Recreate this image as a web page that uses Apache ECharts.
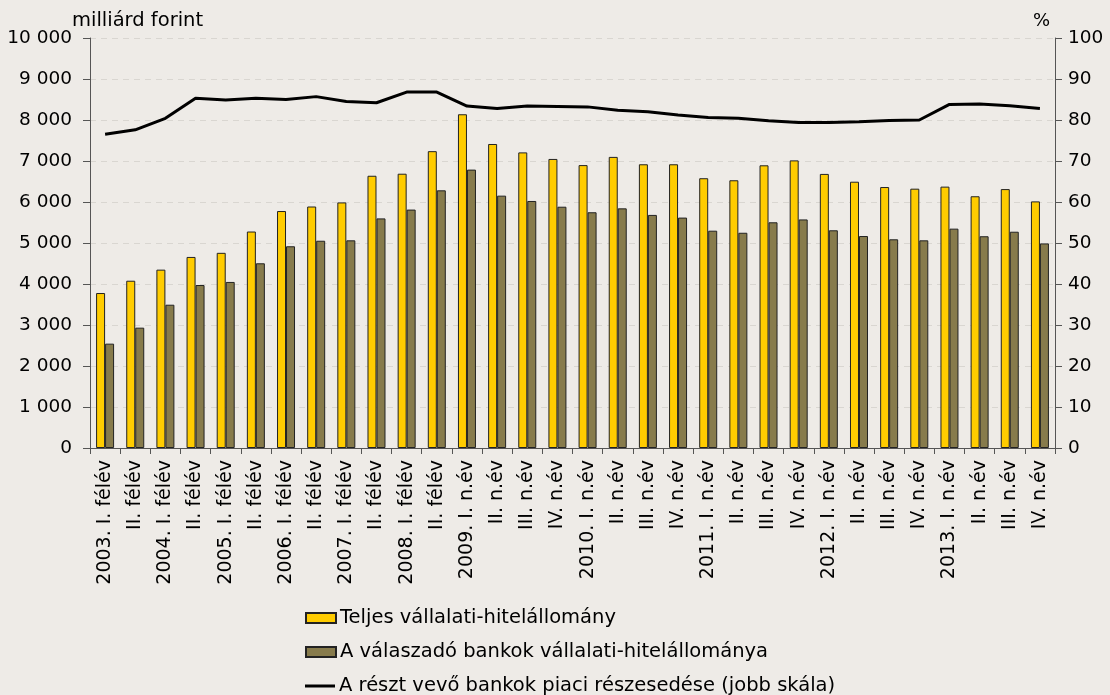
<!DOCTYPE html>
<html>
<head>
<meta charset="utf-8">
<script src="https://cdn.jsdelivr.net/npm/echarts@6/dist/echarts.min.js"></script>
<style>
html,body{margin:0;padding:0;background:#eeebe7;}
#c{width:1110px;height:695px;}
</style>
</head>
<body>
<div id="c"></div>
<script>
const categories = [
  "2003. I. félév","II. félév","2004. I. félév","II. félév","2005. I. félév","II. félév",
  "2006. I. félév","II. félév","2007. I. félév","II. félév","2008. I. félév","II. félév",
  "2009. I. n.év","II. n.év","III. n.év","IV. n.év",
  "2010. I. n.év","II. n.év","III. n.év","IV. n.év",
  "2011. I. n.év","II. n.év","III. n.év","IV. n.év",
  "2012. I. n.év","II. n.év","III. n.év","IV. n.év",
  "2013. I. n.év","II. n.év","III. n.év","IV. n.év"
];
const totalLoans = [3780,4080,4350,4660,4760,5280,5780,5890,5990,6640,6690,7240,
  8140,7415,7210,7050,6900,7100,6920,6920,6580,6530,6895,7015,6685,6495,6365,6325,6375,6140,6315,6015];
const respondentLoans = [2545,2935,3495,3975,4050,4505,4920,5055,5065,5600,5815,6285,
  6790,6155,6025,5885,5750,5845,5685,5620,5300,5250,5505,5575,5310,5170,5090,5065,5350,5165,5275,4990];
const marketShare = [76.5,77.6,80.4,85.3,84.9,85.3,85.0,85.7,84.5,84.2,86.8,86.8,
  83.4,82.8,83.4,83.3,83.2,82.4,82.0,81.2,80.6,80.4,79.8,79.4,79.4,79.6,79.9,80.0,83.8,83.9,83.5,82.8];
const seriesNames = ["Teljes vállalati-hitelállomány","A válaszadó bankok vállalati-hitelállománya","A részt vevő bankok piaci részesedése (jobb skála)"];
const leftAxisName = "milliárd forint";
const rightAxisName = "%";

const FONT = "DejaVu Sans";
const chart = echarts.init(document.getElementById('c'));
const fmt = v => String(v).replace(/\B(?=(\d{3})+(?!\d))/g, ' ');
const legendText = {fontFamily: FONT, fontSize: 19.5, color: '#000', padding: [0,0,0,-1]};
chart.setOption({
  backgroundColor: '#eeebe7',
  animation: false,
  textStyle: {fontFamily: FONT, color: '#000'},
  grid: {left: 90, right: 55, top: 38, bottom: 247, containLabel: false},
  graphic: [
    {type: 'text', left: 72, top: 11, style: {text: leftAxisName, font: '19.5px "DejaVu Sans"', fill: '#000'}},
    {type: 'text', right: 60, top: 12, style: {text: rightAxisName, font: '18px "DejaVu Sans"', fill: '#000', textAlign: 'right'}}
  ],
  legend: [
    {left: 305, top: 608, padding: 0, itemWidth: 30, itemHeight: 10, textStyle: legendText,
     data: [{name: seriesNames[0], icon: 'rect'}]},
    {left: 305, top: 642, padding: 0, itemWidth: 30, itemHeight: 10, textStyle: legendText,
     data: [{name: seriesNames[1], icon: 'rect'}]},
    {left: 305, top: 676, padding: 0, itemWidth: 30, itemHeight: 3, textStyle: legendText,
     data: [{name: seriesNames[2], icon: 'rect', itemStyle: {color: '#000', borderWidth: 0}}]}
  ],
  xAxis: {
    type: 'category', data: categories,
    axisLine: {lineStyle: {color: '#555', width: 1}},
    axisTick: {show: true, length: 6, lineStyle: {color: '#555'}},
    axisLabel: {rotate: 90, fontSize: 19, color: '#000', margin: 12, interval: 0, fontFamily: FONT}
  },
  yAxis: [
    {
      type: 'value', min: 0, max: 10000, interval: 1000,
      axisLine: {show: true, lineStyle: {color: '#555'}},
      axisTick: {show: true, length: 7, lineStyle: {color: '#555'}},
      axisLabel: {fontSize: 18.5, color: '#000', formatter: fmt, margin: 18, fontFamily: FONT},
      splitLine: {show: true, lineStyle: {color: '#d9d6d1', type: [6,5], width: 1}}
    },
    {
      type: 'value', min: 0, max: 100, interval: 10, position: 'right',
      axisLine: {show: true, lineStyle: {color: '#555'}},
      axisTick: {show: true, length: 7, lineStyle: {color: '#555'}},
      axisLabel: {fontSize: 18.5, color: '#000', margin: 13, fontFamily: FONT},
      splitLine: {show: false}
    }
  ],
  series: [
    {name: seriesNames[0], type: 'bar', data: totalLoans, barWidth: 9, barGap: '0%',
     itemStyle: {color: '#ffcc00', borderColor: '#222', borderWidth: 1}},
    {name: seriesNames[1], type: 'bar', data: respondentLoans, barWidth: 9, barGap: '0%',
     itemStyle: {color: '#877b4c', borderColor: '#222', borderWidth: 1}},
    {name: seriesNames[2], type: 'line', yAxisIndex: 1, data: marketShare,
     symbol: 'none', showSymbol: false, lineStyle: {color: '#000', width: 3}, itemStyle: {color: '#000'}}
  ]
});
</script>
</body>
</html>
